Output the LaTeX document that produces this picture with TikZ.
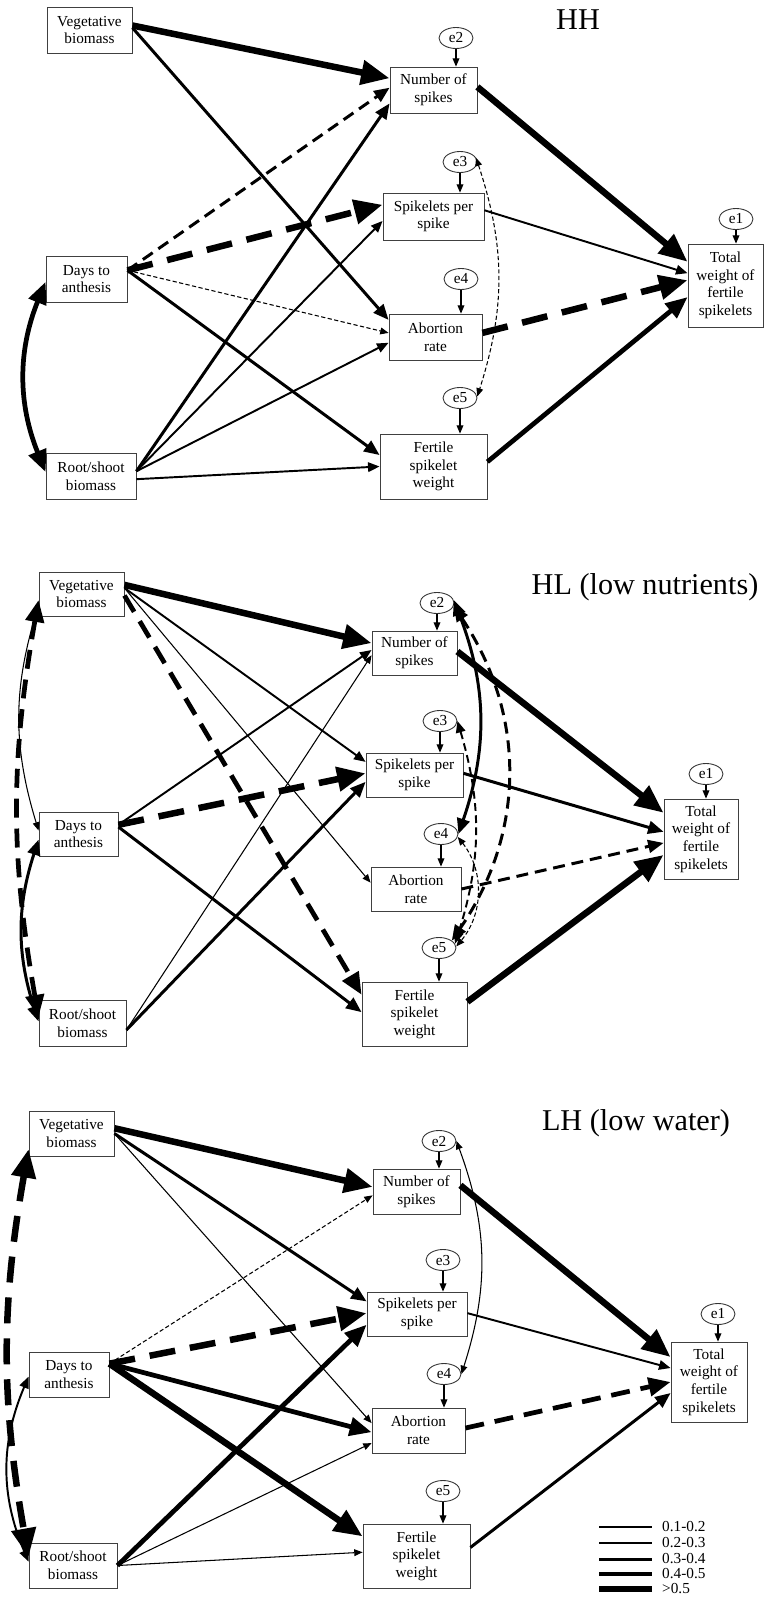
\documentclass[tikz,border=0pt]{standalone}
\usepackage{fontspec}
\setmainfont{Liberation Serif}
\usetikzlibrary{arrows.meta,shapes.geometric}
\newcommand{\boxfont}{\fontsize{8.7}{10}\selectfont}
\newcommand{\titlefont}{\fontsize{17.2}{20}\selectfont}
\tikzset{
  >={Triangle[length=2.5pt 3.7, width=2pt 3.1]},
  box/.style={draw=black!75, line width=0.5pt, align=center, inner sep=0pt, font=\boxfont},
  err/.style={ellipse, draw=black!80, line width=0.5pt, inner sep=0pt, minimum width=0.68cm, minimum height=0.42cm, font=\boxfont},
  c1/.style={line width=0.6pt},
  c2/.style={line width=1.1pt},
  c3/.style={line width=1.7pt},
  c4/.style={line width=2.7pt},
  c5/.style={line width=3.7pt},
  neg/.style={dash pattern=on 4\pgflinewidth off 2.3\pgflinewidth}
}

\begin{document}
\begin{tikzpicture}[x=0.02cm, y=-0.02cm]
  \useasboundingbox (0,0) rectangle (764,1620);

  % ---------------- HH ----------------
  \node[font=\titlefont] (hhtitle) at (578,20) {HH};
  \node[box, minimum width=1.70cm, minimum height=0.92cm] (hhveg) at (89.5,30) {Vegetative\\biomass};
  \node[box, minimum width=1.62cm, minimum height=0.92cm] (hhdays) at (86.5,279) {Days to\\anthesis};
  \node[box, minimum width=1.80cm, minimum height=0.92cm] (hhroot) at (91,476) {Root/shoot\\biomass};
  \node[box, minimum width=1.74cm, minimum height=0.92cm] (hhnum) at (433.5,90) {Number of\\spikes};
  \node[box, minimum width=2.02cm, minimum height=0.94cm] (hhspk) at (433.5,216.5) {Spikelets per\\spike};
  \node[box, minimum width=1.86cm, minimum height=0.92cm] (hhabo) at (435.5,337) {Abortion\\rate};
  \node[box, minimum width=2.14cm, minimum height=1.30cm] (hhfer) at (433.5,466.5) {Fertile\\spikelet\\weight};
  \node[box, minimum width=1.50cm, minimum height=1.66cm] (hhtot) at (725.5,285.5) {Total\\weight of\\fertile\\spikelets};
  \node[err] (hhe1) at (736,219) {e1};
  \node[err] (hhe2) at (456,38) {e2};
  \node[err] (hhe3) at (460,162) {e3};
  \node[err] (hhe4) at (461,279) {e4};
  \node[err] (hhe5) at (460,398) {e5};

  \draw[c1,->] (hhe1.south) -- (hhe1.south |- hhtot.north);
  \draw[c1,->] (hhe2.south) -- (hhe2.south |- hhnum.north);
  \draw[c1,->] (hhe3.south) -- (hhe3.south |- hhspk.north);
  \draw[c1,->] (hhe4.south) -- (hhe4.south |- hhabo.north);
  \draw[c1,->] (hhe5.south) -- (hhe5.south |- hhfer.north);

  \draw[c5,->] (hhveg.6) -- (hhnum.165);
  \draw[c3,->] (hhveg.3) -- (hhabo.160);
  \draw[c3,neg,->] (hhdays.12) -- (hhnum.177);
  \draw[c5,neg,->] (hhdays.12) -- (hhspk.167);
  \draw[c1,neg,->] (hhdays.12) -- (hhabo.175);
  \draw[c3,->] (hhdays.12) -- (hhfer.168);
  \draw[c3,->] (hhroot.6) -- (hhnum.197);
  \draw[c2,->] (hhroot.6) -- (hhspk.185);
  \draw[c2,->] (hhroot.6) -- (hhabo.187);
  \draw[c2,->] (hhroot.-4) -- (hhfer.180);
  \draw[c4,<->] (hhdays.184) to[bend right=22] (hhroot.175);

  \draw[c5,->] (hhnum.4) -- (hhtot.148);
  \draw[c2,->] (hhspk.7) -- (hhtot.162);
  \draw[c5,neg,->] (hhabo.5) -- (hhtot.172);
  \draw[c4,->] (hhfer.5) -- (hhtot.197);
  \draw[c1,neg,<->] (hhe3.15) to[bend left=18] (hhe5.5);

  % ---------------- HL ----------------
  \node[font=\titlefont] (hltitle) at (645,587) {HL (low nutrients)};
  \node[box, minimum width=1.70cm, minimum height=0.88cm] (hlveg) at (81.5,594) {Vegetative\\biomass};
  \node[box, minimum width=1.58cm, minimum height=0.88cm] (hldays) at (78.5,834) {Days to\\anthesis};
  \node[box, minimum width=1.74cm, minimum height=0.92cm] (hlroot) at (82.5,1023) {Root/shoot\\biomass};
  \node[box, minimum width=1.70cm, minimum height=0.88cm] (hlnum) at (414.5,653) {Number of\\spikes};
  \node[box, minimum width=1.94cm, minimum height=0.88cm] (hlspk) at (414.5,775) {Spikelets per\\spike};
  \node[box, minimum width=1.80cm, minimum height=0.88cm] (hlabo) at (416,889) {Abortion\\rate};
  \node[box, minimum width=2.10cm, minimum height=1.28cm] (hlfer) at (414.5,1014) {Fertile\\spikelet\\weight};
  \node[box, minimum width=1.48cm, minimum height=1.60cm] (hltot) at (701,839) {Total\\weight of\\fertile\\spikelets};
  \node[err] (hle1) at (706,774) {e1};
  \node[err] (hle2) at (437,603) {e2};
  \node[err] (hle3) at (440,721) {e3};
  \node[err] (hle4) at (441,834) {e4};
  \node[err] (hle5) at (439,948) {e5};

  \draw[c1,->] (hle1.south) -- (hle1.south |- hltot.north);
  \draw[c1,->] (hle2.south) -- (hle2.south |- hlnum.north);
  \draw[c1,->] (hle3.south) -- (hle3.south |- hlspk.north);
  \draw[c1,->] (hle4.south) -- (hle4.south |- hlabo.north);
  \draw[c1,->] (hle5.south) -- (hle5.south |- hlfer.north);

  \draw[c5,->] (hlveg.12) -- (hlnum.167);
  \draw[c2,->] (hlveg.8) -- (hlspk.165);
  \draw[c1,->] (hlveg.8) -- (hlabo.172);
  \draw[c4,neg,->] (hlveg.-2) -- (hlfer.160);
  \draw[c2,->] (hldays.13) -- (hlnum.176);
  \draw[c5,neg,->] (hldays.13) -- (hlspk.178);
  \draw[c3,->] (hldays.10) -- (hlfer.178);
  \draw[c1,->] (hlroot.-9) -- (hlnum.183);
  \draw[c3,->] (hlroot.-9) -- (hlspk.188);
  \draw[c1,<->] (hlveg.195) to[bend right=17] (hldays.175);
  \draw[c4,neg,<->] (hlveg.188) to[bend right=10] (hlroot.172);
  \draw[c3,<->] (hldays.188) to[bend right=18] (hlroot.178);

  \draw[c5,->] (hlnum.2) -- (hltot.145);
  \draw[c3,->] (hlspk.2) -- (hltot.169);
  \draw[c3,neg,->] (hlabo.0) -- (hltot.186);
  \draw[c5,->] (hlfer.13) -- (hltot.203);
  \draw[c3,<->] (hle2.10) to[bend left=20] (hle4.east);
  \draw[c3,neg,<->] (hle2.-10) to[bend left=34] (hle5.30);
  \draw[c2,neg,<->] (hle3.east) to[bend left=17] (hle5.15);
  \draw[c1,neg,<->] (hle4.-10) to[bend left=39] (hle5.5);

  % ---------------- LH ----------------
  \node[font=\titlefont] (lhtitle) at (636,1123) {LH (low water)};
  \node[box, minimum width=1.70cm, minimum height=0.90cm] (lhveg) at (71.5,1133.5) {Vegetative\\biomass};
  \node[box, minimum width=1.60cm, minimum height=0.90cm] (lhdays) at (69,1374.5) {Days to\\anthesis};
  \node[box, minimum width=1.76cm, minimum height=0.90cm] (lhroot) at (73,1565.5) {Root/shoot\\biomass};
  \node[box, minimum width=1.74cm, minimum height=0.90cm] (lhnum) at (416.5,1191.5) {Number of\\spikes};
  \node[box, minimum width=2.00cm, minimum height=0.88cm] (lhspk) at (417,1314) {Spikelets per\\spike};
  \node[box, minimum width=1.86cm, minimum height=0.90cm] (lhabo) at (418.5,1430.5) {Abortion\\rate};
  \node[box, minimum width=2.14cm, minimum height=1.28cm] (lhfer) at (416.5,1556) {Fertile\\spikelet\\weight};
  \node[box, minimum width=1.52cm, minimum height=1.60cm] (lhtot) at (709,1382) {Total\\weight of\\fertile\\spikelets};
  \node[err] (lhe1) at (718,1314) {e1};
  \node[err] (lhe2) at (439,1141) {e2};
  \node[err] (lhe3) at (443,1260) {e3};
  \node[err] (lhe4) at (444,1374) {e4};
  \node[err] (lhe5) at (443,1491) {e5};

  \draw[c1,->] (lhe1.south) -- (lhe1.south |- lhtot.north);
  \draw[c1,->] (lhe2.south) -- (lhe2.south |- lhnum.north);
  \draw[c1,->] (lhe3.south) -- (lhe3.south |- lhspk.north);
  \draw[c1,->] (lhe4.south) -- (lhe4.south |- lhabo.north);
  \draw[c1,->] (lhe5.south) -- (lhe5.south |- lhfer.north);

  \draw[c5,->] (lhveg.7) -- (lhnum.174);
  \draw[c3,->] (lhveg.0) -- (lhspk.166);
  \draw[c1,->] (lhveg.0) -- (lhabo.171);
  \draw[c1,neg,->] (lhdays.15) -- (lhnum.185);
  \draw[c5,neg,->] (lhdays.15) -- (lhspk.179);
  \draw[c4,->] (lhdays.15) -- (lhabo.182);
  \draw[c5,->] (lhdays.15) -- (lhfer.160);
  \draw[c4,->] (lhroot.0) -- (lhspk.192);
  \draw[c1,->] (lhroot.0) -- (lhabo.195);
  \draw[c1,->] (lhroot.0) -- (lhfer.176);
  \draw[c5,neg,<->] (lhveg.200) to[bend right=10] (lhroot.169);
  \draw[c2,<->] (lhdays.183) to[bend right=23] (lhroot.175);

  \draw[c5,->] (lhnum.8) -- (lhtot.147);
  \draw[c2,->] (lhspk.1) -- (lhtot.160);
  \draw[c4,neg,->] (lhabo.3) -- (lhtot.180);
  \draw[c3,->] (lhfer.9) -- (lhtot.196);
  \draw[c1,<->] (lhe2.east) to[bend left=19] (lhe4.east);

  % legend
  \draw[c1] (599,1527) -- (652,1527);
  \draw[c2] (599,1543) -- (652,1543);
  \draw[c3] (599,1559) -- (652,1559);
  \draw[c4] (599,1574) -- (652,1574);
  \draw[c5] (599,1589) -- (652,1589);
  \node[anchor=west, font=\boxfont] (leg1) at (656,1527) {0.1-0.2};
  \node[anchor=west, font=\boxfont] (leg2) at (656,1543) {0.2-0.3};
  \node[anchor=west, font=\boxfont] (leg3) at (656,1559) {0.3-0.4};
  \node[anchor=west, font=\boxfont] (leg4) at (656,1574) {0.4-0.5};
  \node[anchor=west, font=\boxfont] (leg5) at (656,1589) {>0.5};
\end{tikzpicture}
\end{document}
